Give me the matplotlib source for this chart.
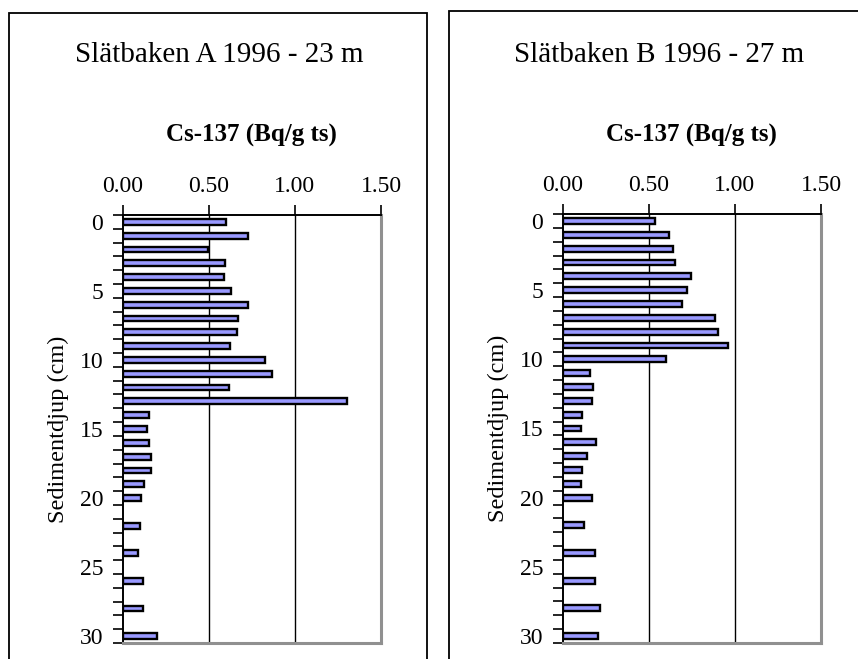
import matplotlib.pyplot as plt
import numpy as np
from matplotlib.patches import Rectangle

plt.rcParams["font.family"] = ["Liberation Serif", "DejaVu Serif"]

# depth categories 0..30 cm (NaN = no sample)
depth = list(range(31))
cs_a = [0.60, 0.73, 0.495, 0.594, 0.588, 0.627, 0.726, 0.67, 0.662, 0.621,
        0.829, 0.868, 0.617, 1.305, 0.151, 0.14, 0.15, 0.165, 0.165, 0.124,
        0.109, np.nan, 0.103, np.nan, 0.091, np.nan, 0.118, np.nan, 0.115, np.nan,
        0.20]
cs_b = [0.534, 0.617, 0.639, 0.652, 0.744, 0.72, 0.691, 0.882, 0.901, 0.961,
        0.602, 0.161, 0.175, 0.173, 0.111, 0.105, 0.196, 0.142, 0.113, 0.105,
        0.173, np.nan, 0.124, np.nan, 0.188, np.nan, 0.186, np.nan, 0.216, np.nan,
        0.206]
titles = ["Slätbaken A 1996 - 23 m", "Slätbaken B 1996 - 27 m"]
xticks = [0.0, 0.5, 1.0, 1.5]

W, H = 858, 659
fig = plt.figure(figsize=(W / 100, H / 100), dpi=100)


def px_axes(l, t, r, b):
    return fig.add_axes([l / W, 1 - b / H, (r - l) / W, (b - t) / H])


def draw_panel(box, ax_px, values, title):
    bl, bt, br = box
    fig.patches.append(Rectangle((bl / W, -0.1), (br - bl) / W, 1.1 - bt / H,
                                 transform=fig.transFigure, fill=False,
                                 edgecolor="black", linewidth=1.3, zorder=0))
    l, t, r, b = ax_px
    ax = px_axes(l, t, r, b)
    y = np.array(depth)
    v = np.array(values)
    ok = ~np.isnan(v)
    ax.barh(y[ok], v[ok], height=0.42, color="#9999ff", edgecolor="black",
            linewidth=1.7, zorder=3)
    ax.set_xlim(0, 1.5)
    ax.set_ylim(30.5, -0.5)
    ax.xaxis.tick_top()
    ax.set_xticks(xticks)
    ax.set_xticklabels([f"{x:.2f}" for x in xticks], fontsize=17)
    ax.tick_params(axis="x", direction="out", length=7, width=1.2, pad=6)
    for xv in xticks[1:-1]:
        ax.axvline(xv, color="black", linewidth=1.0, zorder=1)
    # category axis: ticks between categories, labels every 5 cm
    ax.set_yticks(np.arange(-0.5, 31, 1.0))
    ax.set_yticklabels([])
    ax.set_yticks([0, 5, 10, 15, 20, 25, 30], minor=True)
    ax.set_yticklabels(["0", "5", "10", "15", "20", "25", "30"], minor=True,
                       fontsize=17)
    ax.tick_params(axis="y", which="major", direction="out", length=7, width=1.2)
    ax.tick_params(axis="y", which="minor", length=0, pad=14)
    for side in ("right", "bottom"):
        ax.spines[side].set_color("#909090")
        ax.spines[side].set_linewidth(2.2)
    for side in ("left", "top"):
        ax.spines[side].set_color("black")
        ax.spines[side].set_linewidth(1.4)
    ax.set_ylabel("Sedimentdjup (cm)", fontsize=17.5)
    ax.yaxis.set_label_coords(-(l - (bl + 60)) / (r - l), 0.5)
    cx = (l + r) / 2
    fig.text(cx / W, 1 - 135 / H, "Cs-137 (Bq/g ts)", ha="center", va="center",
             fontsize=18, fontweight="bold")
    fig.text((bl + 210) / W, 1 - 55 / H, title, ha="center", va="center",
             fontsize=21)
    return ax


draw_panel((9, 13, 427), (122.7, 215, 381, 643), cs_a, titles[0])
draw_panel((448.7, 11, 900), (562.7, 214, 821, 643), cs_b, titles[1])

fig.savefig("out.png", dpi=100)
